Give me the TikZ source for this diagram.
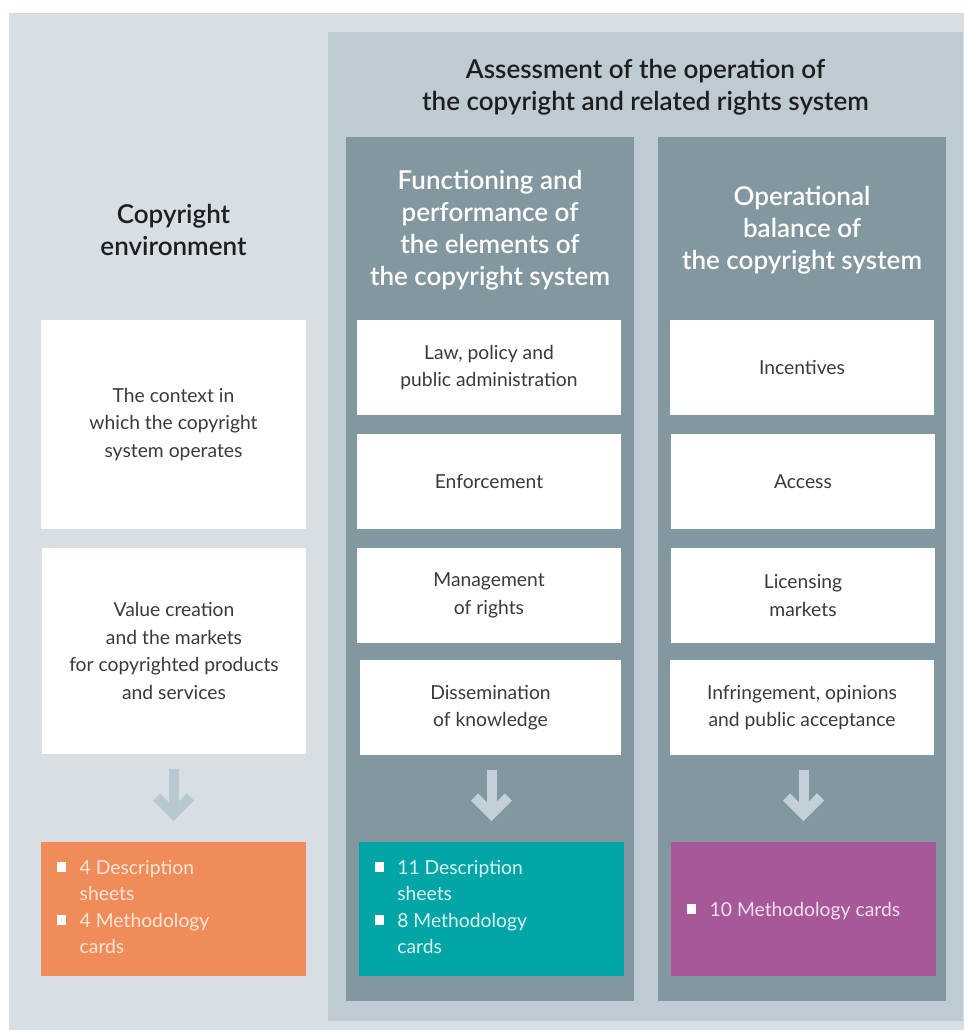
\documentclass[tikz,border=0pt]{standalone}
\usepackage{fontspec}
\setmainfont{Lato}[BoldFont={* Semibold}]
\usetikzlibrary{calc}

\definecolor{envbg}{HTML}{D7DFE5}
\definecolor{assessbg}{HTML}{BFCBD3}
\definecolor{colbg}{HTML}{8397A1}
\definecolor{arrowlight}{HTML}{B7C8D0}
\definecolor{arrowdark}{HTML}{C3D0D7}
\definecolor{sheetorange}{HTML}{F08C59}
\definecolor{sheetteal}{HTML}{00A6A6}
\definecolor{sheetpurple}{HTML}{A65898}
\definecolor{orangetext}{HTML}{FDE6DA}
\definecolor{tealtext}{HTML}{DDF3F3}
\definecolor{purpletext}{HTML}{F1DFEC}
\definecolor{bodytext}{HTML}{3A3A3A}
\definecolor{headtext}{HTML}{1E1E1E}

% white square bullet
\newcommand{\sqbul}{\raisebox{2.3pt}{\textcolor{white}{\rule{9.3pt}{9.3pt}}}}

\tikzset{
  area/.style={fill=#1, draw=none, anchor=north west, inner sep=0pt, outer sep=0pt},
  item/.style={fill=white, draw=none, anchor=north west, inner sep=0pt, outer sep=0pt,
    align=center, text=bodytext, font=\fontsize{19.3}{27.5}\selectfont},
  result/.style={fill=#1, draw=none, anchor=north west, inner sep=0pt, outer sep=0pt},
  heading/.style={align=center, inner sep=0pt, text=headtext,
    font=\fontsize{26}{31.5}\selectfont\bfseries},
  colheading/.style={align=center, inner sep=0pt, text=white,
    font=\fontsize{26}{32}\selectfont\bfseries},
  bullets/.style={anchor=base west, inner sep=0pt, text=#1,
    font=\fontsize{19.3}{26.5}\selectfont},
  flow/.style={draw=#1, line width=10pt, line cap=butt, miter limit=10},
}

% thick chevron arrow from a box down to its result box
\newcommand{\flowarrow}[3]{%
  \draw[flow=#3] ($(#2.north |- #1.south)+(0,15)$) -- ($(#2.north)+(0,-32)$);
  \draw[flow=#3, line join=miter] ($(#2.north)+(-17,-45)$) -- ($(#2.north)+(0,-28)$) -- ($(#2.north)+(17,-45)$);
}

\begin{document}
\begin{tikzpicture}[x=1pt, y=-1pt]
\useasboundingbox (0,0) rectangle (964,1030);
\fill[white] (0,0) rectangle (964,1030);

% background panels
\node[area=envbg, minimum width=955pt, minimum height=1017pt] (env) at (9,13) {};
\node[area=assessbg, minimum width=635pt, minimum height=989pt] (assess) at (328,32) {};
\node[area=colbg, minimum width=288pt, minimum height=864pt] (colA) at (346,137) {};
\node[area=colbg, minimum width=288pt, minimum height=864pt] (colB) at (658,137) {};

% headings
\node[heading] (assesstitle) at (645.5,87) {Assessment of the operation of\\the copyright and related rights system};
\node[heading] (envtitle) at (173.5,230) {Copyright\\environment};
\node[colheading] (colAtitle) at (490,230) {Functioning and\\performance of\\the elements of\\the copyright system};
\node[colheading] (colBtitle) at (802,230) {Operational\\balance of\\the copyright system};

% copyright environment
\node[item, minimum width=265pt, minimum height=209pt] (context) at (41,320) {The context in\\which the copyright\\system operates};
\node[item, minimum width=264pt, minimum height=206pt] (value) at (42,548) {Value creation\\and the markets\\for copyrighted products\\and services};

% functioning and performance
\node[item, minimum width=264pt, minimum height=95pt] (law) at (357,320) {Law, policy and\\public administration};
\node[item, minimum width=264pt, minimum height=95pt] (enforce) at (357,434) {Enforcement};
\node[item, minimum width=264pt, minimum height=95pt] (manage) at (357,548) {Management\\of rights};
\node[item, minimum width=261pt, minimum height=95pt] (dissem) at (360,660) {Dissemination\\of knowledge};

% operational balance
\node[item, minimum width=264pt, minimum height=95pt] (incent) at (670,320) {Incentives};
\node[item, minimum width=264pt, minimum height=95pt] (access) at (671,434) {Access};
\node[item, minimum width=264pt, minimum height=95pt] (licens) at (671,548) {Licensing\\markets};
\node[item, minimum width=264pt, minimum height=95pt] (infring) at (670,660) {Infringement, opinions\\and public acceptance};

% result boxes
\node[result=sheetorange, minimum width=265pt, minimum height=134pt] (resA) at (41,842) {};
\node[result=sheetteal, minimum width=265pt, minimum height=134pt] (resB) at (359,842) {};
\node[result=sheetpurple, minimum width=265pt, minimum height=134pt] (resC) at (671,842) {};

\node[bullets=orangetext] (listA) at (56.7,874) {\begin{tabular}[t]{@{}l@{\hspace{13.5pt}}l@{}}
\sqbul & 4 Description\\ & sheets\\ \sqbul & 4 Methodology\\ & cards\end{tabular}};
\node[bullets=tealtext] (listB) at (374.3,874) {\begin{tabular}[t]{@{}l@{\hspace{13.5pt}}l@{}}
\sqbul & 11 Description\\ & sheets\\ \sqbul & 8 Methodology\\ & cards\end{tabular}};
\node[bullets=purpletext] (listC) at (686.7,916) {\begin{tabular}[t]{@{}l@{\hspace{13.5pt}}l@{}}
\sqbul & 10 Methodology cards\end{tabular}};

% arrows
\flowarrow{value}{resA}{arrowlight}
\flowarrow{dissem}{resB}{arrowdark}
\flowarrow{infring}{resC}{arrowdark}
\end{tikzpicture}
\end{document}
